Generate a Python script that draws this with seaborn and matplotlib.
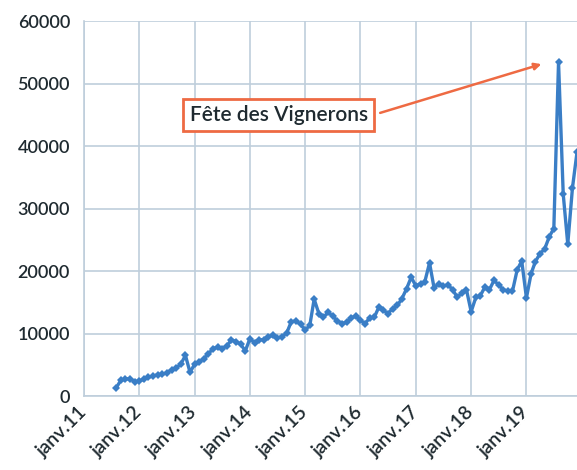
import matplotlib
matplotlib.use("Agg")
import matplotlib.pyplot as plt
import matplotlib.transforms as mtransforms
import pandas as pd
import seaborn as sns

# monthly values, Aug 2011 -> Dec 2019
start_month = "2011-08-01"
values = [
    1300, 2500, 2700, 2800, 2300,                                              # 2011
    2400, 2700, 3000, 3200, 3400, 3500, 3700, 4200, 4500, 5100, 6500, 3800,    # 2012
    5100, 5400, 6000, 6700, 7600, 7800, 7600, 8000, 9000, 8700, 8300, 7200,    # 2013
    9200, 8500, 9000, 9000, 9500, 9700, 9300, 9500, 10100, 11900, 12000, 11500,  # 2014
    10500, 11400, 15500, 13200, 12600, 13400, 12800, 12000, 11600, 11800, 12500, 12800,  # 2015
    12100, 11600, 12500, 12600, 14200, 13700, 13200, 14000, 14500, 15600, 17200, 19000,  # 2016
    17600, 18000, 18300, 21300, 17300, 18000, 17600, 17800, 17000, 15800, 16500, 17000,  # 2017
    13500, 15800, 16000, 17400, 17000, 18500, 17800, 17000, 16800, 16800, 20200, 21600,  # 2018
    15700, 19600, 21500, 22800, 23500, 25500, 26800, 53400, 32300, 24300, 33300, 39000,  # 2019
]
years = list(range(2011, 2020))
tick_labels = ["janv.%02d" % (y % 100) for y in years]
y_ticks = [0, 10000, 20000, 30000, 40000, 50000, 60000]
annotation = "Fête des Vignerons"

df = pd.DataFrame({
    "mois": pd.date_range(start_month, periods=len(values), freq="MS"),
    "valeur": values,
})

sns.set_style("white")
plt.rcParams["font.family"] = ["Lato", "DejaVu Sans"]

grid_col = "#bfcedb"
line_col = "#3a7ec6"
orange = "#ee6a43"
text_col = "#1f2a30"

fig = plt.figure(figsize=(5.77, 4.70), dpi=100)
ax = fig.add_axes([0.1456, 0.1574, 0.8544, 0.7979])

sns.lineplot(data=df, x="mois", y="valeur", ax=ax, color=line_col,
             linewidth=2.4, marker="D", markersize=4.5, markeredgewidth=0,
             zorder=3)

ax.set_xlim(pd.Timestamp("2011-01-01"), df["mois"].iloc[-1])
ax.set_ylim(0, 60000)
ax.set_xticks(pd.to_datetime(["%d-01-01" % y for y in years]))
ax.set_xticklabels(tick_labels, rotation=45, ha="right", va="center",
                   rotation_mode="anchor", fontsize=14)
ax.set_yticks(y_ticks)
ax.set_yticklabels([str(v) for v in y_ticks], fontsize=13)
shift = mtransforms.ScaledTranslation(4 / 100, -3 / 100, fig.dpi_scale_trans)
for lab in ax.get_xticklabels():
    lab.set_fontweight("semibold")
    lab.set_transform(lab.get_transform() + shift)
for lab in ax.get_yticklabels():
    lab.set_fontweight("semibold")

ax.grid(True, color=grid_col, linewidth=1.2)
ax.tick_params(axis="both", length=6, width=1.2, color=grid_col,
               labelcolor=text_col)
ax.tick_params(axis="x", pad=4)
ax.tick_params(axis="y", pad=4)
for side in ["top", "right"]:
    ax.spines[side].set_visible(False)
for side in ["left", "bottom"]:
    ax.spines[side].set_color(grid_col)
    ax.spines[side].set_linewidth(1.2)
ax.set_xlabel("")
ax.set_ylabel("")

# label box and arrow towards the peak
ax.text(pd.Timestamp("2014-07-10"), 45000, annotation, ha="center", va="center",
        fontsize=15, fontweight="semibold", color=text_col, zorder=4,
        bbox=dict(boxstyle="square,pad=0.3", fc="white", ec=orange, lw=2))
ax.annotate("", xy=(pd.Timestamp("2019-04-10"), 53100),
            xytext=(pd.Timestamp("2016-05-10"), 45300),
            arrowprops=dict(arrowstyle="-|>", color=orange, lw=1.8,
                            mutation_scale=10, shrinkA=0, shrinkB=0),
            zorder=4)

fig.savefig("out.png", dpi=100)
